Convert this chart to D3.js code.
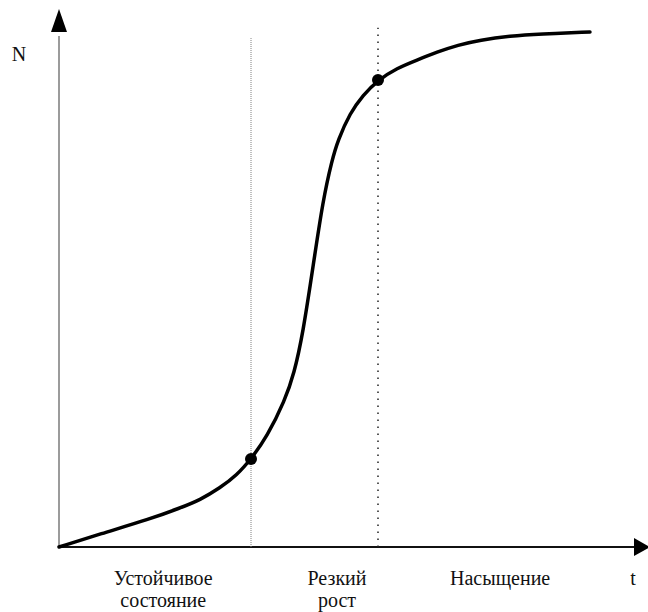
<!DOCTYPE html>
<html>
<head>
<meta charset="utf-8">
<script src="https://cdn.jsdelivr.net/npm/d3@7"></script>
<style>
  body { margin: 0; background: #fff; }
  text { font-family: "Liberation Serif", "DejaVu Serif", serif; fill: #111; }
</style>
</head>
<body>
<div id="chart"></div>
<script>
// curve of N(t) (t and N in 0..100 units)
const curveT = [0, 6.96, 15.45, 20.54, 23.94, 27.33, 30.22, 32.6, 35.31, 38.37, 39.9, 41.43, 43.12, 44.82, 46.35, 47.37, 49.41, 51.61, 54.16, 57.39, 60.78, 64.18, 67.74, 71.48, 76.57, 81.66, 90.15]
const curveN = [0, 2.42, 5.2, 7.25, 8.74, 10.97, 13.38, 16.36, 20.45, 27.32, 32.16, 39.78, 52.04, 64.5, 71.93, 75.65, 80.67, 84.01, 86.8, 89.03, 90.52, 92.01, 93.31, 94.24, 94.98, 95.35, 95.72]

// phase borders (vertical lines) and their top ends
const borderT = [32.6, 54.16]
const borderN = [16.36, 86.8]
const borderTop = [94.6, 96.5]

// phase names under the t axis
const phaseLabels = [["Устойчивое", "состояние"], ["Резкий", "рост"], ["Насыщение"]]
const phaseT = [17.7, 47.2, 74.9]

var width = 648
var height = 612

var x = d3.scaleLinear().domain([0, 100]).range([59, 648])
var y = d3.scaleLinear().domain([0, 100]).range([547, 9])

var svg = d3.select("#chart")
    .append("svg")
    .attr("width", width)
    .attr("height", height)

// axes
svg.append("line")
    .attr("x1", x(0)).attr("y1", y(0))
    .attr("x2", x(0)).attr("y2", y(95))
    .attr("stroke", "#7a7a7a")
    .attr("stroke-width", 1.5)
svg.append("path")
    .attr("d", "M" + x(0) + "," + y(100) + "L" + (x(0) - 8) + "," + (y(100) + 23) + "L" + (x(0) + 8) + "," + (y(100) + 23) + "Z")
    .attr("fill", "#000")

svg.append("line")
    .attr("x1", x(0)).attr("y1", y(0))
    .attr("x2", x(98)).attr("y2", y(0))
    .attr("stroke", "#111")
    .attr("stroke-width", 2)
svg.append("path")
    .attr("d", "M" + (x(100) + 2) + "," + y(0) + "L" + (x(100) - 14) + "," + (y(0) - 9) + "L" + (x(100) - 14) + "," + (y(0) + 9) + "Z")
    .attr("fill", "#000")

// vertical borders
svg.append("line")
    .attr("x1", x(borderT[0])).attr("x2", x(borderT[0]))
    .attr("y1", y(0)).attr("y2", y(borderTop[0]))
    .attr("stroke", "#808080")
    .attr("stroke-width", 1)
    .attr("stroke-dasharray", "1,1")
svg.append("line")
    .attr("x1", x(borderT[1])).attr("x2", x(borderT[1]))
    .attr("y1", y(0)).attr("y2", y(borderTop[1]))
    .attr("stroke", "#222")
    .attr("stroke-width", 1.5)
    .attr("stroke-dasharray", "1.5,5.5")

// the S-curve
var pts = curveT.map(function(t, i) { return [t, curveN[i]] })
var line = d3.line()
    .x(function(d) { return x(d[0]) })
    .y(function(d) { return y(d[1]) })
    .curve(d3.curveBasis)
svg.append("path")
    .datum(pts)
    .attr("d", line)
    .attr("fill", "none")
    .attr("stroke", "#000")
    .attr("stroke-width", 3.5)
    .attr("stroke-linecap", "round")

svg.selectAll("circle.mark")
    .data(borderT)
    .enter()
    .append("circle")
    .attr("class", "mark")
    .attr("cx", function(d) { return x(d) })
    .attr("cy", function(d, i) { return y(borderN[i]) })
    .attr("r", 6)
    .attr("fill", "#000")

// axis letters
svg.append("text")
    .attr("x", 19).attr("y", 61)
    .attr("text-anchor", "middle")
    .style("font-size", "20px")
    .text("N")
svg.append("text")
    .attr("x", 633).attr("y", 585)
    .attr("text-anchor", "middle")
    .style("font-size", "20px")
    .text("t")

// phase labels
phaseLabels.forEach(function(lines, i) {
    lines.forEach(function(s, j) {
        svg.append("text")
            .attr("x", x(phaseT[i]))
            .attr("y", 585 + j * 22)
            .attr("text-anchor", "middle")
            .style("font-size", "20px")
            .text(s)
    })
})
</script>
</body>
</html>
